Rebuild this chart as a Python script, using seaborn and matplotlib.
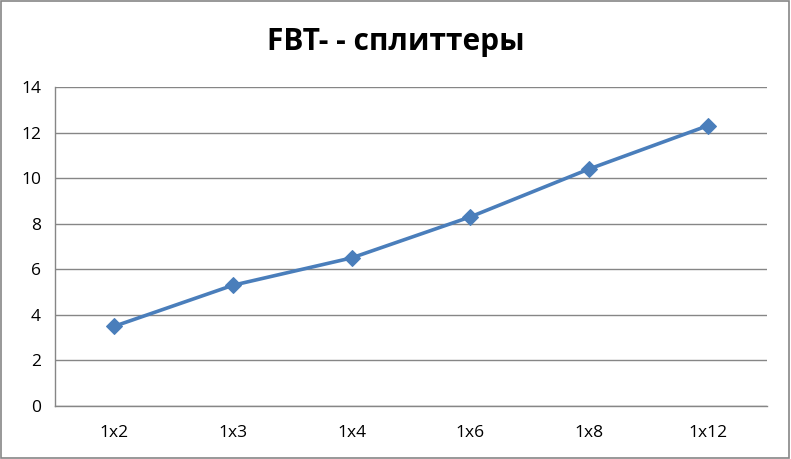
import matplotlib
matplotlib.use("Agg")
import matplotlib.pyplot as plt
import seaborn as sns
import pandas as pd
from matplotlib.patches import Rectangle

categories = ["1x2", "1x3", "1x4", "1x6", "1x8", "1x12"]
values = [3.5, 5.3, 6.5, 8.3, 10.4, 12.3]
title = "FBT- - сплиттеры"
yticks = [0, 2, 4, 6, 8, 10, 12, 14]

sns.set_style("white")
plt.rcParams['font.family'] = ['Open Sans', 'DejaVu Sans']
plt.rcParams['text.color'] = 'black'
plt.rcParams['xtick.labelcolor'] = 'black'
plt.rcParams['ytick.labelcolor'] = 'black'

df = pd.DataFrame({"cat": categories, "val": values, "x": range(len(categories))})

fig = plt.figure(figsize=(7.91, 4.59), dpi=100)
ax = fig.add_axes([55/791, 1-406/459, (767-55)/791, (406-87)/459])

sns.lineplot(data=df, x="x", y="val", ax=ax, color="#4A7EBB", linewidth=2.6,
             marker="D", markersize=8, markeredgecolor="#4A7EBB")

ax.set_xlim(-0.5, len(categories) - 0.5)
ax.set_ylim(0, 14)
ax.set_yticks(yticks)
ax.set_yticklabels([str(t) for t in yticks], fontsize=12.5, color="black")
ax.set_xticks(range(len(categories)))
ax.set_xticklabels(categories, fontsize=12.5, color="black")
ax.tick_params(axis="x", length=0, pad=14)
# boundary tick marks
ax.set_xticks([i - 0.5 for i in range(len(categories) + 1)], minor=True)
ax.tick_params(axis="x", which="minor", length=6, color="#868686", direction="out")
ax.tick_params(axis="y", length=6, color="#868686", direction="out", pad=4)
ax.set_xlabel("")
ax.set_ylabel("")
ax.grid(axis="y", color="#868686", linewidth=1)
ax.grid(axis="x", visible=False)
ax.set_axisbelow(True)
for s in ["top", "right"]:
    ax.spines[s].set_visible(False)
for s in ["left", "bottom"]:
    ax.spines[s].set_color("#868686")
    ax.spines[s].set_linewidth(1)

fig.text(0.5, 1-42/459, title, ha="center", va="center", fontsize=21.5,
         fontweight="bold", color="black")
fig.patches.append(Rectangle((0.001, 0.002), 0.997, 0.996, transform=fig.transFigure,
                             fill=False, edgecolor="#868686", linewidth=1.2))

fig.savefig("out.png", dpi=100)
